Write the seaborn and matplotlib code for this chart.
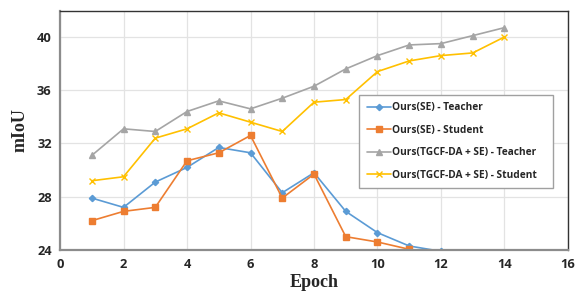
import pandas as pd
import matplotlib.pyplot as plt
import seaborn as sns

# dados
epochs_se = [1, 2, 3, 4, 5, 6, 7, 8, 9, 10, 11, 12]
se_teacher = [27.9, 27.2, 29.1, 30.2, 31.7, 31.3, 28.3, 29.8, 26.9, 25.3, 24.3, 23.9]
se_student = [26.2, 26.9, 27.2, 30.7, 31.3, 32.6, 27.9, 29.7, 25.0, 24.6, 24.05, 23.6]

epochs_tgcf = [1, 2, 3, 4, 5, 6, 7, 8, 9, 10, 11, 12, 13, 14]
tgcf_teacher = [31.1, 33.1, 32.9, 34.4, 35.2, 34.6, 35.4, 36.3, 37.6, 38.6, 39.4, 39.5, 40.1, 40.7]
tgcf_student = [29.2, 29.5, 32.4, 33.1, 34.3, 33.6, 32.9, 35.1, 35.3, 37.4, 38.2, 38.6, 38.8, 40.0]

labels = ['Ours(SE) - Teacher', 'Ours(SE) - Student',
          'Ours(TGCF-DA + SE) - Teacher', 'Ours(TGCF-DA + SE) - Student']
colors = ['#5B9BD5', '#ED7D31', '#A5A5A5', '#FFC000']
markers = ['D', 's', '^', 'x']
msizes = [3.2, 4.2, 4.2, 4.8]

sns.set_style('whitegrid')
plt.rcParams['font.family'] = ['Open Sans', 'DejaVu Sans']

fig = plt.figure(figsize=(5.81, 2.93), dpi=100)
ax = fig.add_axes([0.1033, 0.1468, 0.8743, 0.8157])

series = [(epochs_se, se_teacher), (epochs_se, se_student),
          (epochs_tgcf, tgcf_teacher), (epochs_tgcf, tgcf_student)]
for (x, y), lab, c, m, ms in zip(series, labels, colors, markers, msizes):
    df = pd.DataFrame({'Epoch': x, 'mIoU': y})
    sns.lineplot(data=df, x='Epoch', y='mIoU', ax=ax, label=lab, color=c,
                 marker=m, markersize=ms, markeredgecolor=c, markeredgewidth=1,
                 linewidth=1.2)

ax.set_xlim(0, 16)
ax.set_ylim(24, 41.95)
ax.set_xticks(range(0, 17, 2))
ax.set_yticks([24, 28, 32, 36, 40])
ax.grid(color='#E3E3E3', linewidth=0.9)
ax.tick_params(axis='both', labelsize=9.3, pad=6, length=0)
for t in ax.get_xticklabels() + ax.get_yticklabels():
    t.set_fontweight('bold')

for s in ['left', 'bottom']:
    ax.spines[s].set_color('#8C8C8C')
    ax.spines[s].set_linewidth(1.6)
for s in ['top', 'right']:
    ax.spines[s].set_color('#333333')
    ax.spines[s].set_linewidth(1.0)

ax.set_xlabel('Epoch', family='Liberation Serif', fontweight='bold', fontsize=13, labelpad=2)
ax.set_ylabel('mIoU', family='Liberation Serif', fontweight='bold', fontsize=13, labelpad=6)

leg = ax.legend([h for h in ax.get_legend_handles_labels()[0]],
                [l + '   ' for l in labels],
                loc='upper left', bbox_to_anchor=(0.589, 0.649), frameon=True,
                fancybox=False, edgecolor='#A0A0A0', framealpha=1,
                prop={'weight': 'bold', 'size': 7.3}, labelspacing=1.13,
                handlelength=2.4, handletextpad=0.1, borderpad=0.75, borderaxespad=0)
leg.get_frame().set_linewidth(1.0)

plt.savefig('out.png', dpi=100)
